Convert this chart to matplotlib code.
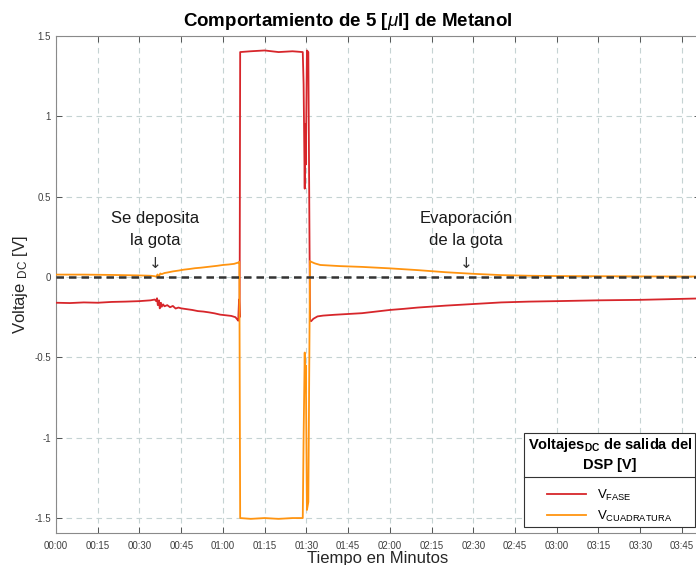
import matplotlib
matplotlib.use('Agg')
import matplotlib.pyplot as plt
from matplotlib.lines import Line2D


# tiempo en minutos, voltaje de fase (rojo)
t_fase = [0, 5, 10, 15, 20, 25, 30, 34, 35.5, 36, 36.3, 36.6, 37, 37.3, 37.7,
          38, 38.5, 39, 40, 41, 42, 43, 44, 45, 47, 49, 51, 53, 55, 57, 59,
          61, 63, 64.5, 65.2, 65.5, 65.8, 66.0, 66.2, 70, 75, 80, 85, 88.7,
          89.0, 89.4, 89.6, 89.8, 90.2, 90.7, 91.3, 91.7, 92.5, 94, 96, 100,
          110, 120, 125, 130, 140, 150, 160, 170, 180, 195, 210, 220, 232]
v_fase = [-0.160, -0.162, -0.158, -0.160, -0.155, -0.153, -0.150, -0.145,
          -0.140, -0.150, -0.132, -0.175, -0.145, -0.195, -0.160, -0.185,
          -0.170, -0.182, -0.175, -0.188, -0.180, -0.196, -0.190, -0.195,
          -0.200, -0.205, -0.212, -0.215, -0.220, -0.226, -0.234, -0.238,
          -0.242, -0.250, -0.265, -0.272, -0.140, -0.250, 1.400, 1.405, 1.410,
          1.400, 1.405, 1.400, 1.200, 0.550, 0.950, 0.700, 1.410, 1.400,
          -0.270, -0.275, -0.260, -0.245, -0.240, -0.235, -0.225, -0.205,
          -0.198, -0.190, -0.178, -0.168, -0.158, -0.153, -0.150, -0.145,
          -0.142, -0.138, -0.133]

# voltaje de cuadratura (naranja)
t_cuad = [0, 10, 20, 30, 34, 35.5, 36, 36.5, 37, 37.5, 38, 39, 40, 42, 44,
          46, 48, 50, 52, 54, 56, 58, 60, 62, 64, 65.5, 65.9, 66.2, 70, 75,
          80, 85, 88.7, 89.0, 89.4, 89.6, 89.8, 90.2, 90.7, 91.3, 91.7, 93,
          95, 98, 102, 110, 120, 130, 140, 150, 160, 170, 180, 195, 210, 232]
v_cuad = [0.015, 0.015, 0.013, 0.010, 0.008, 0.005, 0.002, 0.016, 0.004,
          0.022, 0.018, 0.025, 0.028, 0.035, 0.040, 0.046, 0.050, 0.055,
          0.058, 0.062, 0.066, 0.070, 0.075, 0.078, 0.082, 0.090, 0.095,
          -1.500, -1.505, -1.500, -1.505, -1.500, -1.500, -1.000, -0.470,
          -0.700, -0.550, -1.450, -1.400, 0.100, 0.095, 0.085, 0.075, 0.072,
          0.068, 0.063, 0.054, 0.043, 0.030, 0.020, 0.012, 0.008, 0.006,
          0.005, 0.004, 0.003]

x_ticks = list(range(0, 226, 15))
x_labels = ['%02d:%02d' % (m // 60, m % 60) for m in x_ticks]
y_ticks = [-1.5, -1, -0.5, 0, 0.5, 1, 1.5]
y_labels = ['-1.5', '-1', '-0.5', '0', '0.5', '1', '1.5']


def main():
  plt.rcParams['font.family'] = 'Liberation Sans'
  plt.rcParams['mathtext.fontset'] = 'custom'
  plt.rcParams['mathtext.rm'] = 'Liberation Sans'
  plt.rcParams['mathtext.it'] = 'Liberation Sans:italic'
  plt.rcParams['mathtext.bf'] = 'Liberation Sans:bold'

  W, H = 696, 565
  fig = plt.figure(figsize=(W / 100, H / 100), dpi=100)
  left, right, top, bottom = 56, 700, 36, 533
  ax = fig.add_axes([left / W, 1 - bottom / H, (right - left) / W, (bottom - top) / H])

  ax.plot(t_fase, v_fase, color='#d7262b', lw=1.3, label=r'V$_{\mathrm{FASE}}$', zorder=3)
  ax.plot(t_cuad, v_cuad, color='#ff9410', lw=1.3, label=r'V$_{\mathrm{CUADRATURA}}$', zorder=3)
  ax.axhline(0, color='#333333', lw=1.8, linestyle=(0, (3, 2)), zorder=4)

  ax.set_xlim(0, (right - left) / 2.782)
  ax.set_ylim(-1.593, 1.5)
  ax.set_xticks(x_ticks)
  ax.set_xticklabels(x_labels)
  ax.set_yticks(y_ticks)
  ax.set_yticklabels(y_labels)
  ax.tick_params(direction='in', length=4, labelsize=7, colors='#404040',
                 top=True, right=True, width=0.6)
  ax.tick_params(axis='x', pad=6)
  ax.grid(True, color='#c5d3d3', lw=0.8, linestyle=(0, (5, 4)))
  for s in ax.spines.values():
    s.set_color('#8a8a8a')
    s.set_linewidth(0.8)

  ax.set_xlabel('Tiempo en Minutos', fontsize=12, color='#262626', labelpad=0)
  ax.set_ylabel(r'Voltaje $_{\mathrm{DC}}$ [V]', fontsize=12, color='#262626', labelpad=3)

  fig.text(348 / W, 1 - 21 / H, r'Comportamiento de 5 [$\mu$l] de Metanol',
           ha='center', va='center', fontsize=13.5, weight='bold')

  # anotaciones
  ax.text(35.6, 0.295, 'Se deposita\nla gota', ha='center', va='center', fontsize=12,
          linespacing=1.6, color='#1a1a1a')
  ax.text(35.6, 0.085, u'\u2193', ha='center', va='center', fontsize=11,
          family='DejaVu Sans', color='#333333')
  ax.text(147.4, 0.295, u'Evaporaci\u00f3n\nde la gota', ha='center', va='center',
          fontsize=12, linespacing=1.6, color='#1a1a1a')
  ax.text(147.4, 0.085, u'\u2193', ha='center', va='center', fontsize=11,
          family='DejaVu Sans', color='#333333')

  leg = ax.legend(loc='lower right', bbox_to_anchor=(695 / W, 1 - 527 / H),
                  bbox_transform=fig.transFigure, borderaxespad=0,
                  title='Voltajes$_{\\mathbf{DC}}$ de salida del\nDSP [V]',
                  title_fontproperties={'weight': 'bold', 'size': 10.5},
                  fontsize=9.5, fancybox=False, edgecolor='#333333',
                  framealpha=1, handlelength=3, alignment='center',
                  labelspacing=0.45, borderpad=0.25)
  leg.get_frame().set_linewidth(0.8)
  leg.get_title().set_multialignment('center')
  leg.get_title().set_linespacing(1.4)
  # mas espacio entre el titulo y las entradas
  leg._legend_box.sep = 11

  fig.canvas.draw()
  lb = leg.get_window_extent()
  tb = leg.get_title().get_window_extent()
  ysep = tb.y0 - 5
  fig.add_artist(Line2D([lb.x0 / W, lb.x1 / W], [ysep / H, ysep / H],
                        transform=fig.transFigure, color='#333333', lw=0.8))

  fig.savefig('out.png', dpi=100)


if __name__ == '__main__':
  main()
